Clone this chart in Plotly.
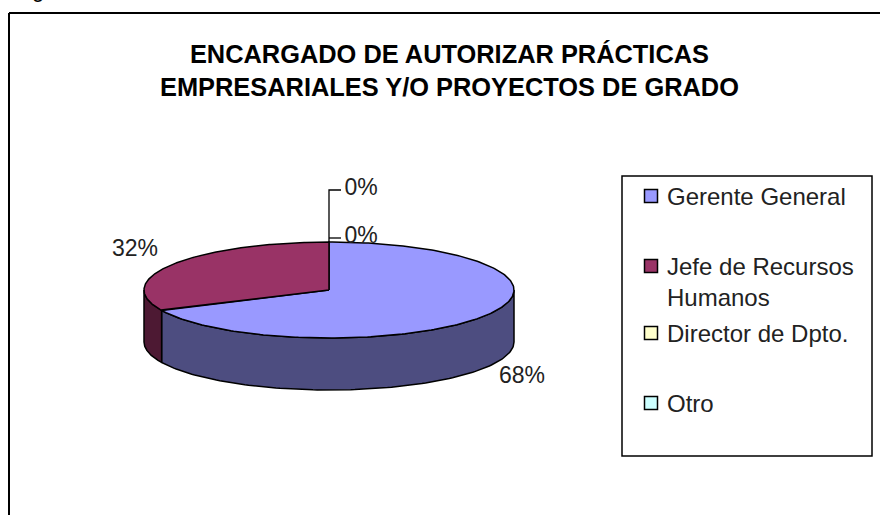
import numpy as np
import plotly.graph_objects as go

categories = ["Gerente General", "Jefe de Recursos<br>Humanos", "Director de Dpto.", "Otro"]
values = [68, 32, 0, 0]
top_colors = ["#9999ff", "#993366", "#ffffcc", "#ccffff"]
side_colors = ["#4d4d80", "#4d1933", "#808066", "#668080"]
title_lines = "ENCARGADO DE AUTORIZAR PRÁCTICAS<br>EMPRESARIALES Y/O PROYECTOS DE GRADO"

# pie geometry, in page pixels
CX, CY, RX, RY, DEPTH = 329, 290, 185, 48, 52
LABEL_POS = [(522, 377), (135, 250), (361, 237), (361, 189)]
LEGEND_BOX = (622, 176, 872, 456)
LEGEND_ROWS = [196, 266, 333, 403]
SWATCH_X, TEXT_X = 651, 665

shares = np.array(values, dtype=float) / sum(values)
stops = np.concatenate([[0], np.cumsum(shares)]) * 2 * np.pi


def ell(t):
    return CX + RX * np.sin(t), CY - RY * np.cos(t)


fig = go.Figure()

# side walls (only the part facing the viewer, pi/2 .. 3pi/2 clockwise from top)
for i, v in enumerate(values):
    a, b = max(stops[i], np.pi / 2), min(stops[i + 1], 3 * np.pi / 2)
    if v == 0 or b <= a:
        continue
    t = np.linspace(a, b, 120)
    x, y = ell(t)
    fig.add_trace(go.Scatter(
        x=np.r_[x, x[::-1], x[0]], y=np.r_[y, y[::-1] + DEPTH, y[0]],
        mode="lines", fill="toself", fillcolor=side_colors[i],
        line=dict(color="black", width=1.5), hoverinfo="skip", showlegend=False))

# top faces
for i, v in enumerate(values):
    if v == 0:
        continue
    t = np.linspace(stops[i], stops[i + 1], 240)
    x, y = ell(t)
    fig.add_trace(go.Scatter(
        x=np.r_[CX, x, CX], y=np.r_[CY, y, CY],
        mode="lines", fill="toself", fillcolor=top_colors[i],
        line=dict(color="black", width=1.5), name=categories[i], showlegend=False))

# leader lines for the two 0% slices
_, ytop = ell(stops[-1])
fig.add_trace(go.Scatter(
    x=[CX, CX, LABEL_POS[3][0] - 20, None, CX, LABEL_POS[2][0] - 20],
    y=[ytop, LABEL_POS[3][1] + 1, LABEL_POS[3][1] + 1, None, LABEL_POS[2][1] + 1, LABEL_POS[2][1] + 1],
    mode="lines", line=dict(color="black", width=1.3), hoverinfo="skip", showlegend=False))

# data labels
fig.add_trace(go.Scatter(
    x=[p[0] for p in LABEL_POS], y=[p[1] for p in LABEL_POS],
    mode="text", text=[f"{v}%" for v in values], textposition="middle center",
    textfont=dict(family="Liberation Sans", size=23, color="#222222"),
    hoverinfo="skip", showlegend=False))

# legend
fig.add_trace(go.Scatter(
    x=[SWATCH_X] * 4, y=LEGEND_ROWS, mode="markers",
    marker=dict(symbol="square", size=13, color=top_colors, line=dict(color="black", width=1.5)),
    hoverinfo="skip", showlegend=False))
for c, y in zip(categories, LEGEND_ROWS):
    fig.add_annotation(x=TEXT_X, y=y - 15, text=c, xref="x", yref="y", showarrow=False,
                       xanchor="left", yanchor="top", align="left",
                       font=dict(family="Liberation Sans", size=24, color="#222222"))

# title
fig.add_annotation(x=449.5, y=70.5, text="<b>" + title_lines.replace("<br>", "</b><br><b>") + "</b>",
                   xref="x", yref="y", showarrow=False,
                   xanchor="center", yanchor="middle", align="center",
                   font=dict(family="Liberation Sans", size=25.4, color="black"))
# clipped caption fragment at page top
fig.add_annotation(x=37.5, y=4, text="g", xref="x", yref="y", showarrow=False,
                   xanchor="center", yanchor="bottom",
                   font=dict(family="Liberation Sans", size=22, color="black"))

fig.update_layout(
    width=880, height=515, margin=dict(l=0, r=0, t=0, b=0),
    paper_bgcolor="white", plot_bgcolor="white", showlegend=False,
    xaxis=dict(range=[0, 880], visible=False, fixedrange=True),
    yaxis=dict(range=[515, 0], visible=False, fixedrange=True),
    shapes=[
        dict(type="rect", x0=LEGEND_BOX[0], y0=LEGEND_BOX[1], x1=LEGEND_BOX[2], y1=LEGEND_BOX[3],
             line=dict(color="black", width=1.5), layer="below"),
        dict(type="line", x0=9, y0=13, x1=880, y1=13, line=dict(color="black", width=2)),
        dict(type="line", x0=9, y0=13, x1=9, y1=515, line=dict(color="black", width=2)),
    ],
)
fig.write_html("out.html", config=dict(displayModeBar=False),
               post_script="document.body.style.margin='0';document.body.style.overflow='hidden';")
